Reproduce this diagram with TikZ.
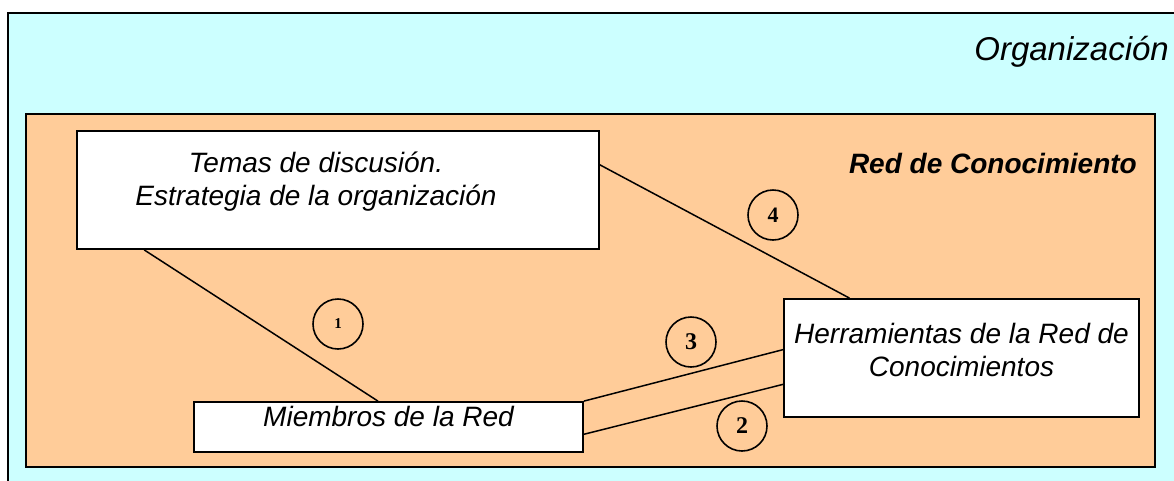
\documentclass[tikz,border=0pt]{standalone}
\usepackage{fontspec}
\setmainfont{Liberation Sans}
\newfontfamily\numfont{Liberation Serif}
\usepackage{xcolor}
\usepackage{tikz}
\usetikzlibrary{calc}
\tikzstyle{block} = [rectangle, draw, fill=white, line width = 1.8pt, align = center, inner sep = 0pt, font = \itshape\fontsize{28}{33}\selectfont]
\tikzstyle{frameOrg} = [draw, line width = 1.8pt, fill = orgCyan]
\tikzstyle{frameRed} = [draw, line width = 1.8pt, fill = redOrange]
\tikzstyle{line} = [line width = 1.5pt]
\tikzstyle{num} = [circle, draw, line width = 1.6pt, minimum size = 50pt, inner sep = 0pt, font = \numfont\bfseries\fontsize{24}{24}\selectfont]
\tikzstyle{noblock} = [rectangle, draw = none, inner sep = 0pt]
\definecolor{orgCyan}{HTML}{CCFFFF}
\definecolor{redOrange}{HTML}{FFCC99}

\begin{document}
\begin{tikzpicture}[x = 1pt, y = -1pt]
        \useasboundingbox (0,0) rectangle (1174,480);
        \draw[frameOrg] (8,13) rectangle (1190,496);
        \draw[frameRed] (26,114) rectangle (1155,467);
        \node(Org) [noblock, anchor = base east, font = \itshape\fontsize{33}{33}\selectfont] at (1169,60) {Organización};
        \node(Red) [noblock, anchor = base east, font = \bfseries\itshape\fontsize{28}{28}\selectfont] at (1137,173) {Red de Conocimiento};
        \node(T) [block, minimum width = 522pt, minimum height = 118pt, text depth = 22pt] at (338,190) {Temas de discusión.\hspace*{44pt}\\Estrategia de la organización\hspace*{44pt}};
        \node(M) [block, minimum width = 389pt, minimum height = 50pt, text depth = 21pt] at (388.5,427) {Miembros de la Red};
        \node(H) [block, minimum width = 355pt, minimum height = 118pt, text depth = 17pt] at (961.5,358) {Herramientas de la Red de\\Conocimientos};
        \node(n1) [num, font = \numfont\bfseries\fontsize{15}{15}\selectfont] at (338,324) {1};
        \node(n2) [num] at (742,426) {2};
        \node(n3) [num] at (691,342) {3};
        \node(n4) [num, font = \numfont\bfseries\fontsize{22}{22}\selectfont] at (773,215) {4};
        \draw[line] ($(T.south west)!0.13!(T.south east)$) -- ($(M.north west)!0.473!(M.north east)$);
        \draw[line] ($(T.north east)!0.29!(T.south east)$) -- ($(H.north west)!0.186!(H.north east)$);
        \draw[line] (M.north east) -- ($(H.north west)!0.43!(H.south west)$);
        \draw[line] ($(M.north east)!0.64!(M.south east)$) -- ($(H.north west)!0.72!(H.south west)$);
    \end{tikzpicture}
\end{document}
